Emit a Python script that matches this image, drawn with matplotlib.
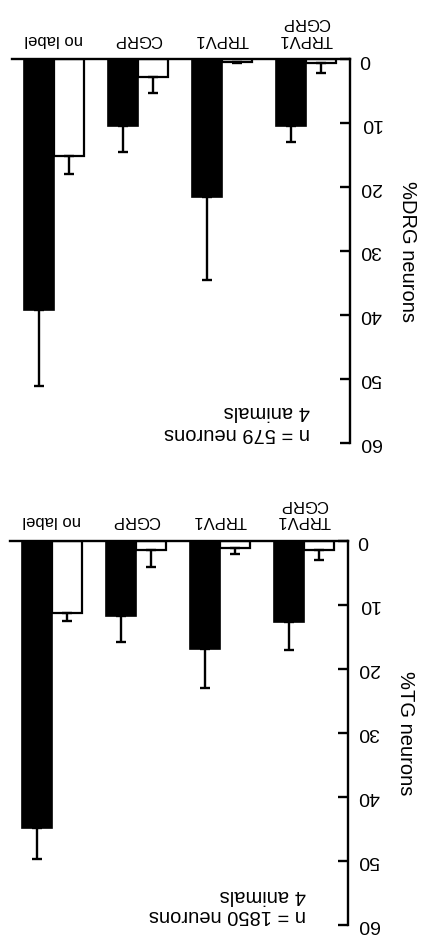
import matplotlib
matplotlib.use("Agg")
import matplotlib.pyplot as plt
import numpy as np

plt.rcParams['font.family'] = ['Liberation Sans', 'DejaVu Sans']

# Original (unrotated) category order; the figure is shown rotated by 180 degrees
categories = ["TRPV1\nCGRP", "TRPV1", "CGRP", "no label"]

# DRG panel
drg_filled = [10.5, 21.5, 10.5, 39.2]
drg_filled_err = [2.4, 13.0, 4.0, 11.9]
drg_open = [0.7, 0.5, 2.8, 15.2]
drg_open_err = [1.5, 0.2, 2.5, 2.7]
drg_note = ["n = 579 neurons", "4 animals"]
drg_ylabel = "%DRG neurons"

# TG panel
tg_filled = [12.6, 16.9, 11.7, 44.8]
tg_filled_err = [4.4, 6.1, 4.1, 4.9]
tg_open = [1.4, 1.1, 1.4, 11.3]
tg_open_err = [1.6, 0.9, 2.7, 1.2]
tg_note = ["n = 1850 neurons", "4 animals"]
tg_ylabel = "%TG neurons"

yticks = [0, 10, 20, 30, 40, 50, 60]

W, H = 421, 935
fig = plt.figure(figsize=(W / 100, H / 100), dpi=100)


def px_axes(left, right, top, bottom):
    return fig.add_axes([left / W, 1 - bottom / H, (right - left) / W, (bottom - top) / H])


def panel(ax, filled, filled_err, opened, opened_err, note, ylabel, note_right, note_y):
    x = np.arange(len(categories))
    w = 0.36
    ax.bar(x + w / 2, filled, w, color='black', edgecolor='black', linewidth=1.2,
           yerr=[np.zeros(len(filled)), filled_err], error_kw=dict(ecolor='black', elinewidth=1.7,
                                                                  capsize=3.5, capthick=1.7))
    ax.bar(x - w / 2, opened, w, color='white', edgecolor='black', linewidth=1.6,
           yerr=[np.zeros(len(opened)), opened_err], error_kw=dict(ecolor='black', elinewidth=1.7,
                                                                  capsize=3.5, capthick=1.7))
    ax.set_xlim(3.5, -0.524)
    ax.set_ylim(60, 0)
    for s in ['left', 'bottom']:
        ax.spines[s].set_visible(False)
    for s in ['right', 'top']:
        ax.spines[s].set_linewidth(1.7)
    ax.yaxis.tick_right()
    ax.set_yticks(yticks)
    ax.set_yticklabels([str(v) for v in yticks], rotation=180, fontsize=14, va='center')
    ax.tick_params(axis='y', direction='in', length=7, width=1.7, pad=7)
    ax.xaxis.tick_top()
    ax.set_xticks(x)
    ax.set_xticklabels(categories, rotation=180, fontsize=12, linespacing=1.15)
    ax.tick_params(axis='x', length=0, pad=9)
    ax.yaxis.set_label_position('right')
    ax.set_ylabel(ylabel, rotation=270, fontsize=14.5, ha='center', va='center')
    ax.yaxis.set_label_coords(1.17, 0.5)
    ax.set_facecolor('none')
    # note (rotated with the figure)
    ax.text(note_right, note_y[0], note[0], rotation=180, ha='right', va='center',
            fontsize=14.5, transform=ax.transAxes)
    ax.text(note_right, note_y[1], note[1], rotation=180, ha='right', va='center',
            fontsize=14.5, transform=ax.transAxes)


ax1 = px_axes(12, 350, 59, 443)
panel(ax1, drg_filled, drg_filled_err, drg_open, drg_open_err, drg_note, drg_ylabel,
      (310 - 12) / 338, [(443 - 433) / 384, (443 - 411) / 384])

ax2 = px_axes(10, 348, 541, 925)
panel(ax2, tg_filled, tg_filled_err, tg_open, tg_open_err, tg_note, tg_ylabel,
      (306 - 10) / 338, [(925 - 916) / 384, (925 - 896) / 384])

fig.savefig("out.png", dpi=100)
